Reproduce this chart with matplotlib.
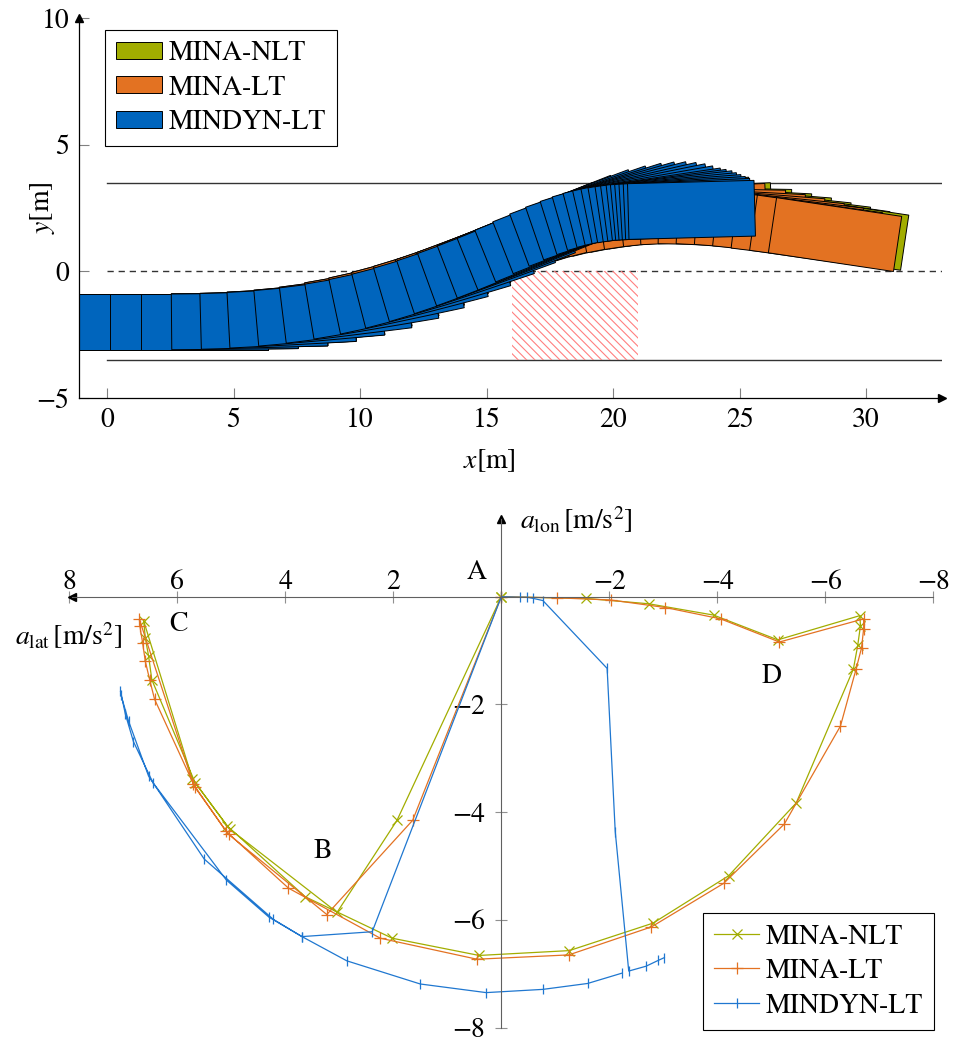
import numpy as np
import matplotlib
matplotlib.use('Agg')
import matplotlib.pyplot as plt
from matplotlib.patches import Polygon, Rectangle, Patch
from matplotlib.lines import Line2D

plt.rcParams['font.family'] = 'STIXGeneral'
plt.rcParams['mathtext.fontset'] = 'stix'
plt.rcParams['font.size'] = 20
plt.rcParams['hatch.linewidth'] = 0.8

c_nlt = '#A2AD00'
c_lt = '#E37222'
c_dyn = '#0065BD'

# vehicle size
L = 5.0
W = 2.2

# poses: rear-centre x, y [m] and heading [deg]
dyn_x = [-2.4, -1.15, 0.1, 1.35, 2.55, 3.7, 4.8, 5.9, 6.95, 8.0, 9.0, 9.95, 10.85, 11.8, 12.65, 13.45,
         14.25, 14.95, 15.65, 16.3, 16.9, 17.45, 17.9, 18.3, 18.65, 18.95, 19.2, 19.45, 19.65, 19.85,
         20.0, 20.15, 20.3, 20.45, 20.6]
dyn_y = [-2.0, -2.0, -2.0, -2.0, -1.995, -1.975, -1.93, -1.855, -1.745, -1.59, -1.40, -1.18, -0.93,
         -0.63, -0.33, -0.03, 0.28, 0.60, 0.93, 1.23, 1.49, 1.71, 1.88, 2.01, 2.10, 2.17, 2.21, 2.25,
         2.28, 2.31, 2.32, 2.33, 2.34, 2.35, 2.36]
dyn_th = [0, 0, 0, 0, 0.5, 1.5, 3, 5, 7, 9.5, 12, 14.5, 16.5, 18.5, 20, 21, 22, 22, 21.5, 20.5, 19,
          17.5, 16, 14.5, 13, 11.5, 10, 8.5, 7.5, 6.5, 5.5, 4.5, 3.5, 2.5, 1.5]

lt_x = [-2.4, -1.15, 0.1, 1.35, 2.55, 3.7, 4.8, 5.9, 6.95, 8.0, 9.0, 9.95, 10.85, 11.75, 12.6, 13.45,
        14.25, 15.0, 15.75, 16.5, 17.25, 18.0, 18.75, 19.5, 20.3, 21.05, 21.8, 22.55, 23.3, 24.05,
        24.8, 25.55, 26.3]
lt_y = [-2.0, -2.0, -2.0, -2.0, -1.99, -1.97, -1.92, -1.84, -1.72, -1.54, -1.34, -1.11, -0.86, -0.59,
        -0.30, 0.0, 0.31, 0.62, 0.92, 1.19, 1.43, 1.64, 1.81, 1.95, 2.07, 2.15, 2.19, 2.19, 2.16, 2.10,
        2.01, 1.92, 1.82]
lt_th = [0, 0, 0, 0, 0.5, 1.5, 3, 5, 7.5, 10, 12.5, 15, 17, 19, 20.5, 21.5, 22, 22, 21, 19, 17, 14,
         11, 8.5, 6, 2.5, -1, -3, -4.5, -6, -7, -8, -8.5]

nlt_x = [-2.4, -1.15, 0.1, 1.35, 2.55, 3.7, 4.8, 5.9, 6.95, 8.0, 9.0, 9.95, 10.85, 11.75, 12.6, 13.47,
         14.29, 15.06, 15.83, 16.6, 17.37, 18.14, 18.91, 19.68, 20.5, 21.27, 22.04, 22.8, 23.56, 24.32,
         25.08, 25.84, 26.58]
nlt_y = [-2.0, -2.0, -2.0, -2.0, -1.99, -1.97, -1.92, -1.84, -1.72, -1.54, -1.34, -1.11, -0.86, -0.59,
         -0.30, 0.01, 0.32, 0.63, 0.93, 1.20, 1.45, 1.66, 1.83, 1.97, 2.10, 2.18, 2.22, 2.22, 2.19, 2.13,
         2.05, 1.96, 1.87]
nlt_th = lt_th

# acceleration traces (a_lat, a_lon) [m/s^2]
nlt_alat = [0, 1.93, 3.04, 5.03, 5.67, 6.47, 6.53, 6.59, 6.62, 5.72, 5.08, 3.63, 2.02, 0.41, -1.26,
            -2.81, -4.21, -5.46, -6.52, -6.60, -6.65, -6.64, -5.12, -3.93, -2.73, -1.56, 0]
nlt_alon = [0, -4.15, -5.86, -4.31, -3.45, -1.54, -1.10, -0.77, -0.45, -3.38, -4.25, -5.57, -6.34,
            -6.66, -6.57, -6.06, -5.18, -3.83, -1.34, -0.90, -0.54, -0.35, -0.80, -0.34, -0.13, -0.03, 0]

lt_alat = [0, 1.64, 3.23, 5.05, 5.67, 6.42, 6.51, 6.59, 6.64, 6.69, 6.70, 5.70, 5.10, 3.94, 2.24, 0.45,
           -1.25, -2.78, -4.12, -5.24, -6.28, -6.57, -6.67, -6.71, -6.71, -5.15, -4.06, -3.04, -2.03,
           -1.04, 0]
lt_alon = [0, -4.15, -5.90, -4.41, -3.54, -1.90, -1.54, -1.20, -0.86, -0.55, -0.42, -3.48, -4.35,
           -5.41, -6.34, -6.73, -6.65, -6.13, -5.32, -4.22, -2.40, -1.34, -0.95, -0.59, -0.41, -0.84,
           -0.41, -0.20, -0.06, -0.02, 0]

dyn_alat = [-3.02, -2.91, -2.68, -2.36, -2.11, -1.96, -0.77, -0.59, -0.48, -0.35, 0, 2.39, 3.69, 4.22,
            5.50, 6.53, 6.90, 7.04, 7.05, 6.96, 6.81, 6.45, 5.09, 4.30, 3.69, 2.86, 1.50, 0.28, -0.77,
            -1.60, -2.23]
dyn_alon = [-6.70, -6.75, -6.86, -6.95, -4.36, -1.33, -0.07, -0.03, -0.01, -0.01, 0, -6.22, -6.31, -5.99,
            -4.87, -3.33, -2.31, -1.83, -1.75, -2.18, -2.69, -3.45, -5.26, -5.95, -6.31, -6.76, -7.19,
            -7.35, -7.29, -7.18, -6.99]


def car(x, y, th):
    t = np.radians(th)
    u = np.array([np.cos(t), np.sin(t)])
    n = np.array([-np.sin(t), np.cos(t)])
    p = np.array([x, y])
    return [p + n * W / 2, p + n * W / 2 + u * L, p - n * W / 2 + u * L, p - n * W / 2]


fig = plt.figure(figsize=(9.58, 10.41), dpi=100)

# ---------------- top: trajectories ----------------
ax1 = fig.add_axes([79 / 958, 1 - 398 / 1041, 863 / 958, 380 / 1041])
ax1.set_xlim(-1.107, 33.0)
ax1.set_ylim(-5, 10)

ax1.plot([0, 33], [3.5, 3.5], color='#333333', lw=1, zorder=1)
ax1.plot([0, 33], [-3.5, -3.5], color='#333333', lw=1, zorder=1)
ax1.plot([0, 33], [0, 0], color='#333333', lw=1, dashes=(4.5, 3.5), zorder=1)
ax1.add_patch(Rectangle((16, -3.5), 5, 3.5, fill=False, hatch='\\\\\\\\', edgecolor='#ff8080', lw=0, zorder=1))

for xs, ys, ths, col in [(nlt_x, nlt_y, nlt_th, c_nlt), (lt_x, lt_y, lt_th, c_lt), (dyn_x, dyn_y, dyn_th, c_dyn)]:
    for x, y, th in zip(xs, ys, ths):
        ax1.add_patch(Polygon(car(x, y, th), closed=True, facecolor=col, edgecolor='black', lw=0.7, zorder=2))

for s in ['top', 'right']:
    ax1.spines[s].set_visible(False)
ax1.spines['left'].set_linewidth(0.9)
ax1.spines['bottom'].set_linewidth(0.9)
ax1.plot(1, 0, '>k', transform=ax1.transAxes, clip_on=False, ms=6)
ax1.plot(0, 1, '^k', transform=ax1.transAxes, clip_on=False, ms=6)
ax1.set_xticks([0, 5, 10, 15, 20, 25, 30])
ax1.set_yticks([-5, 0, 5, 10])
ax1.tick_params(direction='in', length=7, width=0.8, color='#808080', pad=7)
ax1.set_xlabel(r'$x$[m]')
ax1.set_ylabel(r'$y$[m]')
ax1.xaxis.set_label_coords(0.476, -0.13)
ax1.yaxis.set_label_coords(-0.025, 0.5)

leg1 = ax1.legend(handles=[Patch(facecolor=c_nlt, edgecolor='black', lw=0.7, label='MINA-NLT'),
                           Patch(facecolor=c_lt, edgecolor='black', lw=0.7, label='MINA-LT'),
                           Patch(facecolor=c_dyn, edgecolor='black', lw=0.7, label='MINDYN-LT')],
                  loc='upper left', bbox_to_anchor=(0.03, 0.968), borderaxespad=0, fancybox=False,
                  framealpha=1, edgecolor='black', handlelength=1.65, handleheight=0.57,
                  handletextpad=0.25, labelspacing=0.33, borderpad=0.4)
leg1.get_frame().set_linewidth(0.8)

# ---------------- bottom: g-g diagram ----------------
ax2 = fig.add_axes([60 / 958, 1 - 1033 / 1041, 882 / 958, 522.4 / 1041])
ax2.set_xlim(8.17, -8.16)
ax2.set_ylim(-8.1, 1.6)

ax2.plot(nlt_alat, nlt_alon, color=c_nlt, lw=0.9, marker='x', ms=6.5, mew=0.9, label='MINA-NLT')
ax2.plot(lt_alat, lt_alon, color=c_lt, lw=0.9, marker='+', ms=9, mew=0.9, label='MINA-LT')
ax2.plot(dyn_alat, dyn_alon, color='#1f77d0', lw=0.9, marker='|', ms=7, mew=0.9, label='MINDYN-LT')

for s in ['top', 'right']:
    ax2.spines[s].set_visible(False)
ax2.spines['left'].set_position(('data', 0))
ax2.spines['bottom'].set_position(('data', 0))
ax2.spines['left'].set_bounds(-8, 1.45)
ax2.spines['bottom'].set_bounds(-8, 7.95)
ax2.spines['left'].set_color('#606060')
ax2.spines['bottom'].set_color('#606060')
ax2.plot(7.95, 0, '<k', ms=6, clip_on=False)
ax2.plot(0, 1.45, '^k', ms=6, clip_on=False)

ax2.set_xticks([8, 6, 4, 2, -2, -4, -6, -8])
ax2.set_yticks([-2, -4, -6, -8])
ax2.tick_params(axis='x', direction='inout', length=8, width=0.8, color='#909090', pad=-5.5)
ax2.tick_params(axis='y', direction='inout', length=8, width=0.8, color='#909090', pad=7.5)
plt.setp(ax2.get_xticklabels(), va='bottom')

ax2.text(-0.35, 1.43, r'$a_{\mathrm{lon}}\,$[m/s$^2$]', ha='left', va='center')
ax2.text(9.0, -0.72, r'$a_{\mathrm{lat}}\,$[m/s$^2$]', ha='left', va='center')
ax2.text(0.46, 0.46, 'A', ha='center', va='center')
ax2.text(3.30, -4.72, 'B', ha='center', va='center')
ax2.text(5.98, -0.52, 'C', ha='center', va='center')
ax2.text(-5.0, -1.48, 'D', ha='center', va='center')

leg2 = ax2.legend(loc='lower right', bbox_to_anchor=(0.991, 0.006), borderaxespad=0, fancybox=False,
                  framealpha=1, edgecolor='black', handlelength=1.6, handletextpad=0.25,
                  labelspacing=0.33, borderpad=0.4, numpoints=1)
leg2.get_frame().set_linewidth(0.8)

fig.savefig('out.png', dpi=100)
